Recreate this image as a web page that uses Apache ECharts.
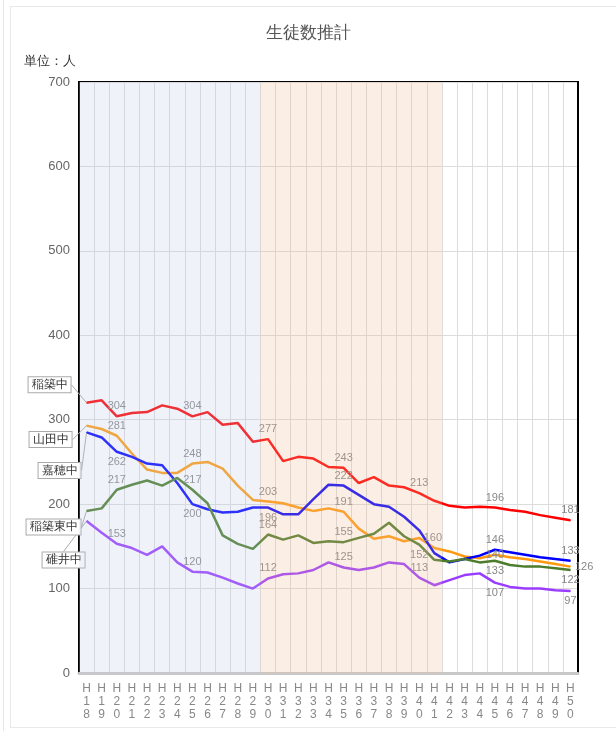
<!DOCTYPE html>
<html><head><meta charset="utf-8">
<script src="https://cdn.jsdelivr.net/npm/echarts@6/dist/echarts.min.js"></script>
<style>
html,body{margin:0;padding:0;background:#fff;}
#edge{position:absolute;left:3px;top:0;width:0;height:731px;border-left:1px solid #e8e8e8;}
#frame{position:absolute;left:10px;top:6px;width:700px;height:722px;border:1px solid #e8e8e8;box-sizing:border-box;}
#chart{position:absolute;left:0;top:0;width:616px;height:731px;}
</style></head>
<body><div id="edge"></div><div id="frame"></div><div id="chart"></div>
<script>
const categories = ['H18','H19','H20','H21','H22','H23','H24','H25','H26','H27','H28','H29','H30','H31','H32','H33','H34','H35','H36','H37','H38','H39','H40','H41','H42','H43','H44','H45','H46','H47','H48','H49','H50'];
const seriesNames = ['稲築中','山田中','嘉穂中','稲築東中','碓井中'];
const inatsuki   = [320,323,304,308,309,317,313,304,309,294,296,274,277,251,256,254,244,243,225,232,222,220,213,204,198,196,197,196,193,191,187,184,181];
const yamada     = [293,289,281,260,241,237,237,248,250,242,222,205,203,201,196,192,195,191,171,159,162,156,160,148,144,138,136,140,137,135,132,129,126];
const kaho       = [285,279,262,256,248,246,225,200,194,190,191,196,196,188,188,206,223,222,211,200,197,185,169,142,131,135,139,146,143,140,137,135,133];
const inatsukiE  = [192,195,217,223,228,222,231,217,201,163,153,147,164,158,163,154,156,155,160,165,178,162,152,134,132,135,131,133,128,126,126,124,122];
const usui       = [180,166,153,148,140,150,131,120,119,113,106,100,112,117,118,122,131,125,122,125,131,129,113,104,110,116,118,107,102,100,100,98,97];
const yTicks = [0,100,200,300,400,500,600,700];
const labeledIdx = [2,7,12,17,22,27,32];
const periodA = ['H18','H29'];
const periodB = ['H30','H41'];

const allData = [inatsuki, yamada, kaho, inatsukiE, usui];
const colors = ['#ff0000','#ff9a10','#0000ff','#4c7c2c','#9a3cff'];
const labelPos = [
  ['top','top','top','top','top','top','top'],
  ['top','top','top','top','right','inside','right'],
  ['bottom','bottom','bottom','top',null,'top','top'],
  ['top','top','top','top','bottom','bottom','bottom'],
  ['top','top','top','top','top','bottom','bottom']
];
const nameOffset = [[-37,-18],[-36,14],[-27,38],[-33,16],[-23,39]];

const chart = echarts.init(document.getElementById('chart'));
const series = allData.map((arr, si) => {
  const data = arr.map((v, i) => {
    const item = { value: v };
    const k = labeledIdx.indexOf(i);
    if (i === 0) {
      item.label = {
        show: true, formatter: seriesNames[si], position: 'inside',
        color: '#333', fontSize: 12, backgroundColor: '#fff',
        borderColor: '#aaa', borderWidth: 1, padding: [2, 3, 1, 3]
      };
      item.labelLine = { show: true, lineStyle: { color: '#aaa', width: 1 } };
    } else if (k >= 0 && labelPos[si][k]) {
      item.label = { show: true, position: labelPos[si][k], distance: 4, color: '#888', fontSize: 11 };
    }
    return item;
  });
  return {
    name: seriesNames[si], type: 'line', data,
    showSymbol: true, showAllSymbol: true, symbol: 'circle', symbolSize: 1,
    itemStyle: { color: colors[si] },
    lineStyle: { color: colors[si], width: 2.5 },
    label: { show: false },
    z: 3,
    labelLayout: function (p) {
      if (p.dataIndex === 0) {
        const cx = p.rect.x + p.rect.width / 2, cy = p.rect.y + p.rect.height / 2;
        return { x: cx + nameOffset[si][0], y: cy + nameOffset[si][1], align: 'center', verticalAlign: 'middle' };
      }
      return {};
    }
  };
});
// Shaded periods: full category bands, drawn as a translucent overlay
series.push({
  type: 'line', xAxisIndex: 1, yAxisIndex: 0, data: [], z: 10, silent: true,
  markArea: {
    silent: true, z: 10,
    data: [
      [{ xAxis: categories.indexOf(periodA[0]), itemStyle: { color: 'rgba(190,203,228,0.24)' } }, { xAxis: categories.indexOf(periodA[1]) + 1 }],
      [{ xAxis: categories.indexOf(periodB[0]), itemStyle: { color: 'rgba(240,183,147,0.24)' } }, { xAxis: categories.indexOf(periodB[1]) + 1 }]
    ]
  }
});

chart.setOption({
  animation: false,
  backgroundColor: 'transparent',
  title: [
    { text: '生徒数推計', left: 'center', top: 20, textStyle: { fontSize: 17, fontWeight: 'normal', color: '#555' } },
    { text: '単位：人', left: 19, top: 50, textStyle: { fontSize: 13, fontWeight: 'normal', color: '#333' } }
  ],
  grid: { left: 79, right: 38, top: 82, bottom: 58, show: true, borderColor: '#000', borderWidth: 2, backgroundColor: 'transparent' },
  xAxis: [{
    type: 'category', data: categories, boundaryGap: true,
    axisLine: { lineStyle: { color: '#c8c8c8', width: 3 } },
    axisTick: { show: false },
    splitLine: { show: true, interval: 0, lineStyle: { color: '#dcdcdc', width: 1 } },
    axisLabel: { interval: 0, color: '#888', fontSize: 12, lineHeight: 13, margin: 9,
      formatter: v => v.split('').join('\n') }
  }, {
    type: 'value', min: 0, max: categories.length, show: false
  }],
  yAxis: [{
    type: 'value', min: yTicks[0], max: yTicks[yTicks.length - 1], interval: 100,
    axisLine: { show: true, lineStyle: { color: '#000', width: 2 } },
    axisTick: { show: false },
    splitLine: { show: true, lineStyle: { color: '#dcdcdc', width: 1 } },
    axisLabel: { color: '#666', fontSize: 13, margin: 9 }
  }, {
    type: 'value', position: 'right', min: yTicks[0], max: yTicks[yTicks.length - 1], interval: 100,
    axisLine: { show: true, lineStyle: { color: '#000', width: 2 } },
    axisTick: { show: false }, axisLabel: { show: false }, splitLine: { show: false }
  }],
  series
});
</script>
</body></html>
